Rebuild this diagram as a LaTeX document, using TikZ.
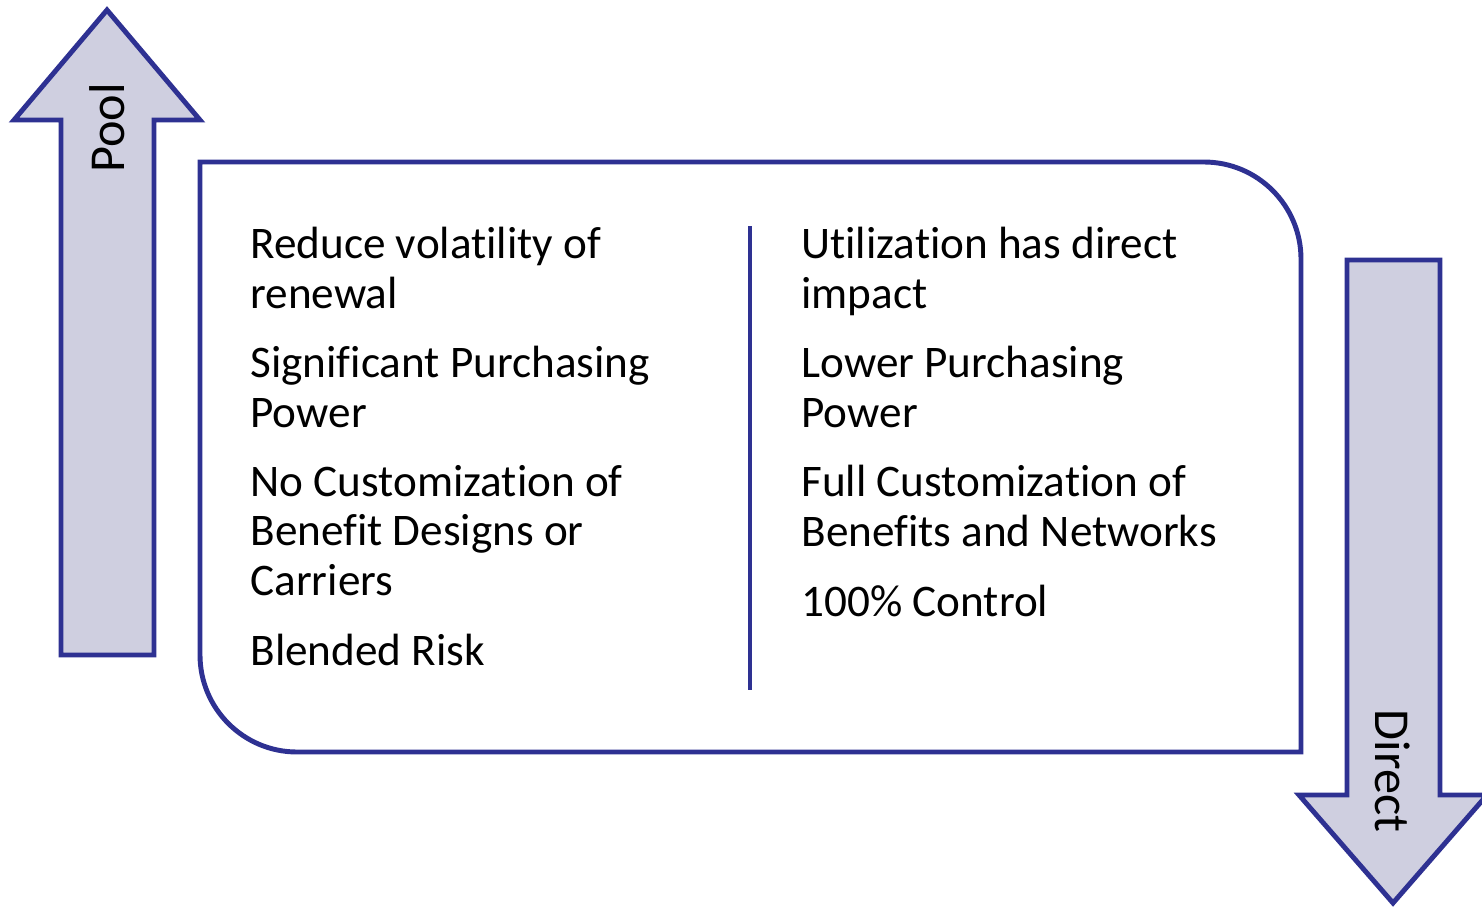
\documentclass[tikz,border=0pt]{standalone}
\usepackage{fontspec}
\setmainfont{Carlito}[Ligatures=NoCommon]
\definecolor{navy}{HTML}{2E3192}
\definecolor{lavender}{HTML}{CFCFE0}
\begin{document}
\begin{tikzpicture}[x=0.01cm,y=-0.01cm,line width=1.4pt,
    arrow shape/.style={draw=navy,fill=lavender,line join=miter},
    main node/.style={anchor=base west,align=left,inner sep=0pt,font=\fontsize{12.85}{13.95}\selectfont},
    side node/.style={inner sep=0pt,font=\fontsize{14.3}{17}\selectfont}]
    \useasboundingbox (0,0) rectangle (1482,909);

    % pool arrow
    \draw[arrow shape] (61,655) -- (61,120) -- (14,120) -- (107,10) -- (200,120) -- (154,120) -- (154,655) -- cycle;
    \node[side node,rotate=90] (pool) at (107,128) {Pool};

    % direct arrow
    \draw[arrow shape] (1347,260) -- (1440,260) -- (1440,795) -- (1487,795) -- (1393,903) -- (1299,795) -- (1347,795) -- cycle;
    \node[side node,rotate=-90] (direct) at (1393,771) {Direct};

    % box
    \draw[navy] (750,162) [rounded corners=0.97cm] -- (1301,162) -- (1301,450) [sharp corners] -- (1301,752) -- (750,752)
        [rounded corners=0.97cm] -- (200,752) -- (200,450) [sharp corners] -- (200,162) -- cycle;

    \coordinate (top) at (750,226);
    \coordinate (bottom) at (750,690);
    \draw[navy] (top) -- (bottom);

    % base anchor sits on the last line
    \node[main node] (l1) at (248,308) {Reduce volatility of\\renewal};
    \node[main node] (l2) at (248,427) {Significant Purchasing\\Power};
    \node[main node] (l3) at (248,595) {No Customization of\\Benefit Designs or\\Carriers};
    \node[main node] (l4) at (248,665) {Blended Risk};

    \node[main node] (r1) at (799,308) {Utilization has direct\\impact};
    \node[main node] (r2) at (799,427) {Lower Purchasing\\Power};
    \node[main node] (r3) at (799,546) {Full Customization of\\Benefits and Networks};
    \node[main node] (r4) at (799,616) {100\% Control};
\end{tikzpicture}
\end{document}
